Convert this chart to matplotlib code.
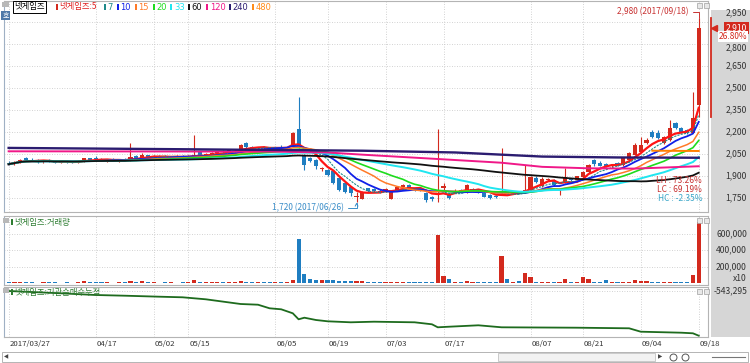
import numpy as np
import pandas as pd
import matplotlib
matplotlib.use('Agg')
import matplotlib.pyplot as plt
import matplotlib.transforms as mtransforms
from matplotlib.patches import Rectangle

plt.rcParams['font.family'] = ['Noto Sans CJK KR', 'DejaVu Sans']

# trading days on screen (KRX closed on these weekdays)
holidays = ['2017-05-01', '2017-05-03', '2017-05-05', '2017-05-09', '2017-06-06', '2017-08-15']
dates = pd.bdate_range('2017-03-27', '2017-09-18').drop(pd.to_datetime(holidays))

tick_dates = ['2017-03-27', '2017-04-17', '2017-05-02', '2017-05-15', '2017-06-05', '2017-06-19',
              '2017-07-03', '2017-07-17', '2017-08-07', '2017-08-21', '2017-09-04', '2017-09-18']

opens = [1990, 1980, 1995, 2025, 2010, 2005, 1995, 2005, 2000, 1990,
         2000, 1995, 1990, 2000, 2020, 2025, 2015, 2005, 2010, 2005,
         2010, 2005, 2035, 2025, 2040, 2030, 2035, 2030, 2025, 2030,
         2035, 2030, 2030, 2060, 2040, 2050, 2055, 2065, 2060, 2075,
         2080, 2125, 2095, 2090, 2095, 2090, 2085, 2095, 2090, 2098,
         2220, 2043, 2020, 2009, 1950, 1941, 1935, 1886, 1850, 1825,
         1757, 1745, 1815, 1812, 1800, 1795, 1745, 1805, 1825, 1840,
         1815, 1805, 1785, 1755, 1790, 1818, 1770, 1795, 1805, 1791,
         1805, 1805, 1784, 1770, 1765, 1785, 1795, 1780, 1790, 1790,
         1805, 1885, 1830, 1875, 1875, 1795, 1860, 1875, 1875, 1893,
         1925, 2009, 1985, 1980, 1970, 1985, 1975, 2010, 2045, 2065,
         2125, 2200, 2193, 2125, 2145, 2261, 2227, 2214, 2193, 2385]
highs = [2000, 2000, 2015, 2030, 2020, 2015, 2010, 2015, 2010, 2005,
         2010, 2005, 2010, 2025, 2025, 2035, 2020, 2015, 2020, 2015,
         2020, 2125, 2040, 2057, 2045, 2040, 2045, 2040, 2035, 2040,
         2045, 2040, 2180, 2065, 2055, 2060, 2070, 2075, 2080, 2085,
         2115, 2130, 2105, 2100, 2105, 2100, 2100, 2110, 2100, 2200,
         2440, 2050, 2030, 2015, 1960, 1950, 1941, 1893, 1860, 1830,
         1790, 1800, 1820, 1818, 1810, 1815, 1795, 1830, 1845, 1845,
         1820, 1815, 1790, 1760, 2220, 1850, 1780, 1810, 1810, 1845,
         1815, 1810, 1790, 1775, 1770, 2091, 1800, 1800, 1800, 1975,
         1900, 1900, 1890, 1885, 1880, 1810, 1955, 1885, 1900, 1935,
         1980, 2015, 2005, 1990, 1980, 1995, 2025, 2060, 2125, 2166,
         2160, 2210, 2210, 2170, 2282, 2270, 2235, 2220, 2473, 2980]
lows = [1975, 1975, 1990, 2005, 2000, 1990, 1990, 1995, 1985, 1985,
        1990, 1985, 1985, 1995, 2005, 2010, 2000, 1995, 2000, 1995,
        2000, 2000, 2020, 2020, 2025, 2020, 2025, 2020, 2015, 2020,
        2025, 2020, 2025, 2030, 2035, 2040, 2050, 2055, 2055, 2065,
        2075, 2090, 2080, 2080, 2085, 2080, 2080, 2085, 2080, 2095,
        2090, 1941, 1995, 1945, 1935, 1900, 1845, 1800, 1785, 1760,
        1720, 1740, 1790, 1790, 1785, 1790, 1740, 1800, 1815, 1810,
        1800, 1795, 1723, 1730, 1725, 1800, 1745, 1790, 1795, 1785,
        1795, 1785, 1755, 1740, 1750, 1780, 1775, 1775, 1780, 1785,
        1800, 1850, 1825, 1865, 1830, 1770, 1855, 1865, 1870, 1890,
        1920, 1970, 1965, 1960, 1960, 1970, 1970, 2005, 2040, 2060,
        2115, 2160, 2155, 2120, 2140, 2220, 2195, 2185, 2190, 2300]
closes = [1980, 1995, 2010, 2010, 2005, 1995, 2005, 2000, 1990, 2000,
          1995, 1990, 2005, 2020, 2010, 2015, 2005, 2010, 2005, 2010,
          2005, 2030, 2025, 2040, 2030, 2035, 2030, 2025, 2030, 2035,
          2030, 2035, 2045, 2035, 2050, 2055, 2065, 2060, 2075, 2080,
          2110, 2095, 2090, 2095, 2090, 2085, 2095, 2090, 2098, 2193,
          2100, 1975, 2002, 1968, 1955, 1907, 1852, 1805, 1791, 1784,
          1765, 1790, 1795, 1795, 1790, 1810, 1790, 1825, 1840, 1820,
          1805, 1800, 1736, 1740, 1800, 1830, 1750, 1800, 1798, 1839,
          1810, 1790, 1757, 1750, 1755, 1800, 1780, 1795, 1785, 1805,
          1890, 1860, 1880, 1880, 1835, 1800, 1890, 1873, 1900, 1927,
          1975, 1980, 1970, 1970, 1975, 1978, 2020, 2057, 2110, 2110,
          2145, 2166, 2159, 2166, 2227, 2227, 2200, 2193, 2295, 2910]
volumes = [15000, 12000, 18000, 10000, 12000, 8000, 14000, 10000, 12000, 8000,
           10000, 9000, 15000, 28000, 12000, 10000, 14000, 10000, 9000, 12000,
           10000, 32000, 15000, 22000, 12000, 10000, 8000, 10000, 12000, 9000,
           10000, 12000, 40000, 20000, 12000, 10000, 14000, 12000, 15000, 18000,
           25000, 20000, 14000, 12000, 10000, 12000, 14000, 12000, 15000, 40000,
           537000, 110000, 48000, 40000, 40000, 38000, 38000, 30000, 28000, 30000,
           28000, 30000, 20000, 12000, 10000, 14000, 12000, 12000, 14000, 18000,
           12000, 14000, 16000, 12000, 580000, 90000, 49000, 20000, 18000, 28000,
           20000, 20000, 16000, 16000, 14000, 327000, 49000, 20000, 22000, 122000,
           82000, 16000, 12000, 18000, 16000, 14000, 57000, 16000, 18000, 82000,
           53000, 20000, 18000, 45000, 12000, 12000, 14000, 16000, 37000, 30000,
           25000, 18000, 18000, 12000, 20000, 10000, 10000, 10000, 102000, 743000]

# short moving averages are computed from the closes
ma_periods = [5, 7, 10, 15, 20, 33, 60]
ma_colors = ['#FF1414', '#1F8A8A', '#1020E8', '#FF7A28', '#1EDC1E', '#20E6F0', '#111111']
ma_widths = [1.6, 0.8, 1.3, 1.1, 1.2, 1.4, 1.3]

# long averages need older history
ma120_idx = [0, 45, 55, 61, 72, 85, 92, 100, 108, 119]
ma120_val = [2068, 2066, 2060, 2045, 2020, 1990, 1962, 1952, 1950, 1966]
ma240_idx = [0, 30, 61, 77, 92, 105, 119]
ma240_val = [2091, 2082, 2072, 2060, 2032, 2026, 2024]
ma480_idx = [111, 119]
ma480_val = [2072, 2070]

# 기관순매수누적
accum_idx = [0, 9, 15, 20, 26, 30, 34, 40, 43, 45, 47, 49, 50, 51, 53, 55, 59, 63, 70, 73,
             74, 76, 81, 85, 98, 107, 109, 116, 118, 119]
accum_val = [-543295, -600800, -643300, -660800, -685800, -700800, -750800, -868300, -885800, -975800,
             -1000800, -1100800, -1250800, -1210800, -1268300, -1300800, -1325800, -1310800, -1325800, -1375800,
             -1450800, -1435800, -1400800, -1450800, -1460800, -1475800, -1560800, -1585800, -1600800, -1660800]

price_ticks = [1750, 1900, 2050, 2200, 2350, 2500, 2650, 2800, 2950]
vol_ticks = [200000, 400000, 600000]
accum_ticks = [-543295]

RED = '#D32A1E'
BLUE = '#1F7EC1'
TXT = '#333333'
GRID = '#C4C4C4'

W, H = 750, 363
fig = plt.figure(figsize=(W / 100, H / 100), dpi=100)


def fbox(x0, y0, x1, y1):
    # pixel box (top-left origin) -> figure fraction
    return [x0 / W, 1 - y1 / H, (x1 - x0) / W, (y1 - y0) / H]


def fxy(x, y):
    return x / W, 1 - y / H


def frect(x0, y0, x1, y1, **kw):
    fig.add_artist(Rectangle(fxy(x0, y1), (x1 - x0) / W, (y1 - y0) / H,
                             transform=fig.transFigure, **kw))


# grey scale strip at the right
frect(711, 10, 750, 337, fc='#D6D6D6', ec='none', zorder=-1)

ax = fig.add_axes(fbox(4, 1, 708, 212))
axv = fig.add_axes(fbox(4, 216, 708, 285), sharex=ax)
axa = fig.add_axes(fbox(4, 287, 708, 337), sharex=ax)

o = np.array(opens)
h = np.array(highs)
l = np.array(lows)
c = np.array(closes)
x = np.arange(len(c))
cols = np.where(c >= o, RED, BLUE)
tick_idx = [dates.get_loc(pd.Timestamp(d)) for d in tick_dates]

for a in (ax, axv, axa):
    a.set_xlim(-0.8, 120.6)
    a.set_xticks(tick_idx)
    a.tick_params(length=0, labelleft=False, labelbottom=False, labelright=False)
    a.grid(True, color=GRID, lw=0.6, ls=(0, (1, 2)))
    a.set_axisbelow(True)
    for s in a.spines.values():
        s.set_color('#B4B4B4')
        s.set_linewidth(0.8)
    a.spines['left'].set_color('#9FB0C4')

# ---- price panel ----
ax.vlines(x, l, h, colors=cols, lw=0.8, zorder=2)
ax.bar(x, np.maximum(np.abs(c - o), 4), bottom=np.minimum(o, c), width=0.72,
       color=cols, lw=0, zorder=2)

cs = pd.Series(c)
for p, col, lw in zip(ma_periods, ma_colors, ma_widths):
    ls = (0, (2, 1)) if p == 7 else '-'
    ax.plot(x, cs.rolling(p, min_periods=1).mean(), color=col, lw=lw, ls=ls, zorder=3)
ax.plot(ma120_idx, ma120_val, color='#F01888', lw=1.4, zorder=3)
ax.plot(ma240_idx, ma240_val, color='#2B1C70', lw=1.7, zorder=3)
ax.plot(ma480_idx, ma480_val, color='#FF8000', lw=1.4, zorder=3)

ax.set_ylim(1654, 3093)
ax.set_yticks(price_ticks)

RX = (747 - 4) / 704
bt = mtransforms.blended_transform_factory(ax.transAxes, ax.transData)


def shifted(tr, dy_px):
    return tr + mtransforms.ScaledTranslation(0, dy_px / 100, fig.dpi_scale_trans)


last = closes[-1]
for v in price_ticks:
    # scale labels next to the price tag make room for it, as the HTS does
    if 0 <= v - last < 60:
        tr = shifted(bt, 9)
    elif 0 < last - v < 150:
        tr = shifted(bt, -4)
    else:
        tr = bt
    ax.text(RX, v, f'{v:,}', transform=tr, ha='right', va='center', fontsize=6.2,
            color=TXT, clip_on=False)

chg = (closes[-1] / closes[-2] - 1) * 100
ax.text(RX, last, f'{last:,}', transform=bt, ha='right', va='center', fontsize=6.2,
        color='white', clip_on=False, zorder=6,
        bbox=dict(boxstyle='square,pad=0.18', fc=RED, ec='none'))
ax.text(RX, last, f'{chg:.2f}%', transform=shifted(bt, -9), ha='right', va='center',
        fontsize=6.0, color=RED, clip_on=False, zorder=6,
        bbox=dict(boxstyle='square,pad=0.1', fc='white', ec='none'))
ax.plot([(714 - 4) / 704], [last], marker='<', ms=4, color=RED, transform=bt, clip_on=False)
ax.plot([(710.5 - 4) / 704] * 2, [lows[-1], highs[-1]], color=RED, lw=1.3,
        transform=bt, clip_on=False)

i_hi = int(np.argmax(h))
i_lo = int(np.argmin(l))
ax.annotate(f'{highs[i_hi]:,} ({dates[i_hi]:%Y/%m/%d})', xy=(i_hi, highs[i_hi]),
            xytext=(-7, 4), textcoords='offset points', ha='right', va='center',
            fontsize=6, color='#C83232',
            arrowprops=dict(arrowstyle='-', color='#C83232', lw=0.7, relpos=(1, 0.5),
                            shrinkA=1, shrinkB=0,
                            connectionstyle='angle,angleA=0,angleB=90,rad=0'))
ax.annotate(f'{lows[i_lo]:,} ({dates[i_lo]:%Y/%m/%d})', xy=(i_lo, lows[i_lo]),
            xytext=(-9, -4), textcoords='offset points', ha='right', va='center',
            fontsize=6, color='#3A8DC8',
            arrowprops=dict(arrowstyle='->', color='#3A8DC8', lw=0.7, relpos=(1, 0.5),
                            shrinkA=1, shrinkB=0, mutation_scale=5,
                            connectionstyle='angle,angleA=0,angleB=90,rad=0'))

lo, hi = min(lows), max(highs)
stats = [('LH', (hi - lo) / lo * 100, '#C83232'),
         ('LC', (last - lo) / lo * 100, '#C83232'),
         ('HC', (last - hi) / hi * 100, '#3AA6C8')]
for k, (name, val, col) in enumerate(stats):
    ax.text(0.9915, 0.147 - k * 0.041, f'{name} : {val:.2f}%', transform=ax.transAxes,
            ha='right', va='center', fontsize=6, color=col)

# ---- volume panel ----
axv.bar(x, volumes, width=0.72, color=cols, lw=0, zorder=2)
axv.set_ylim(-20600, 815700)
axv.set_yticks(vol_ticks)
btv = mtransforms.blended_transform_factory(axv.transAxes, axv.transData)
for v in vol_ticks:
    axv.text(RX, v, f'{v:,}', transform=btv, ha='right', va='center', fontsize=6.2,
             color=TXT, clip_on=False)
axv.text(RX, 0.10, 'x10', transform=axv.transAxes, ha='right', va='center', fontsize=6.2,
         color=TXT, clip_on=False)

# ---- cumulative institutional net buying ----
axa.plot(accum_idx, accum_val, color='#1E6B1E', lw=1.3, zorder=2)
axa.set_ylim(-1693295, -443295)
axa.set_yticks(accum_ticks)
bta = mtransforms.blended_transform_factory(axa.transAxes, axa.transData)
for v in accum_ticks:
    axa.text(RX, v, f'{v:,}', transform=bta, ha='right', va='center', fontsize=6.2,
             color=TXT, clip_on=False)

# date labels under the last panel
btd = mtransforms.blended_transform_factory(axa.transData, axa.transAxes)
for k, i in enumerate(tick_idx):
    fmt = '%Y/%m/%d' if k == 0 else '%m/%d'
    axa.text(i + 0.2, -0.14, dates[i].strftime(fmt), transform=btd, ha='left', va='center',
             fontsize=5.6, color=TXT, clip_on=False)

# ---- header legend ----
frect(2, 2, 9, 7, fc='#B8B8B8', ec='none', zorder=5)
fig.text(*fxy(14, 7), '넷게임즈', fontsize=6, color='black', va='center', zorder=6,
         bbox=dict(boxstyle='square,pad=0.15', fc='white', ec='black', lw=0.7))
frect(56, 4, 58, 10, fc=RED, ec='none', zorder=5)
fig.text(*fxy(59, 7), '넷게임즈:5', fontsize=6, color='#E02020', va='center', zorder=6)
leg_cols = ma_colors[1:] + ['#F01888', '#2B1C70', '#FF8C1A']
leg_names = [str(p) for p in ma_periods[1:]] + ['120', '240', '480']
cur = 104
for name, col in zip(leg_names, leg_cols):
    frect(cur, 4, cur + 2, 10, fc=col, ec='none', zorder=5)
    fig.text(*fxy(cur + 3.5, 7), name, fontsize=6, color=col, va='center', zorder=6,
             family='DejaVu Sans')
    cur += 7.5 + 5.2 * len(name)

frect(1, 11, 10, 20, fc='#4F79A8', ec='none', zorder=5)
fig.text(*fxy(5.5, 15.5), '호', fontsize=5, color='white', ha='center', va='center', zorder=6)

# panel captions
for y, label in [(222, '넷게임즈:거래량'), (292, '넷게임즈:기관순매수누적')]:
    frect(3, y - 4, 9, y + 1, fc='#B8B8B8', ec='none', zorder=5)
    frect(11, y - 3, 13, y + 3, fc='#2E7D32', ec='none', zorder=5)
    fig.text(*fxy(14, y), label, fontsize=6, color='#2E7D32', va='center', zorder=6)

# little window buttons in each panel
for y in (3, 218, 289):
    frect(697, y, 702, y + 5, fc='#E8E8E8', ec='#A0A0A0', lw=0.5, zorder=5)
    frect(704, y, 709, y + 5, fc='#E8E8E8', ec='#A0A0A0', lw=0.5, zorder=5)

# scroll bar
frect(2, 352, 748, 362, fc='white', ec='#A8A8A8', lw=0.6, zorder=5)
frect(498, 353, 655, 361, fc='#F2F2F2', ec='#B8B8B8', lw=0.5, zorder=5)
fig.text(*fxy(6, 357), '◀', fontsize=4, color='#444444', ha='center', va='center',
         family='DejaVu Sans', zorder=6)
fig.text(*fxy(660, 357), '▶', fontsize=4, color='#444444', ha='center', va='center',
         family='DejaVu Sans', zorder=6)
for xx in (673, 685):
    fig.add_artist(plt.Line2D([xx / W], [1 - 357 / H], marker='o', ms=5, mfc='none',
                              mec='#555555', mew=0.7, transform=fig.transFigure, zorder=6))
fig.add_artist(plt.Line2D([712 / W, 745 / W], [1 - 357 / H] * 2, color='#777777', lw=0.8,
                          transform=fig.transFigure, zorder=6))

fig.savefig('out.png', dpi=100)
